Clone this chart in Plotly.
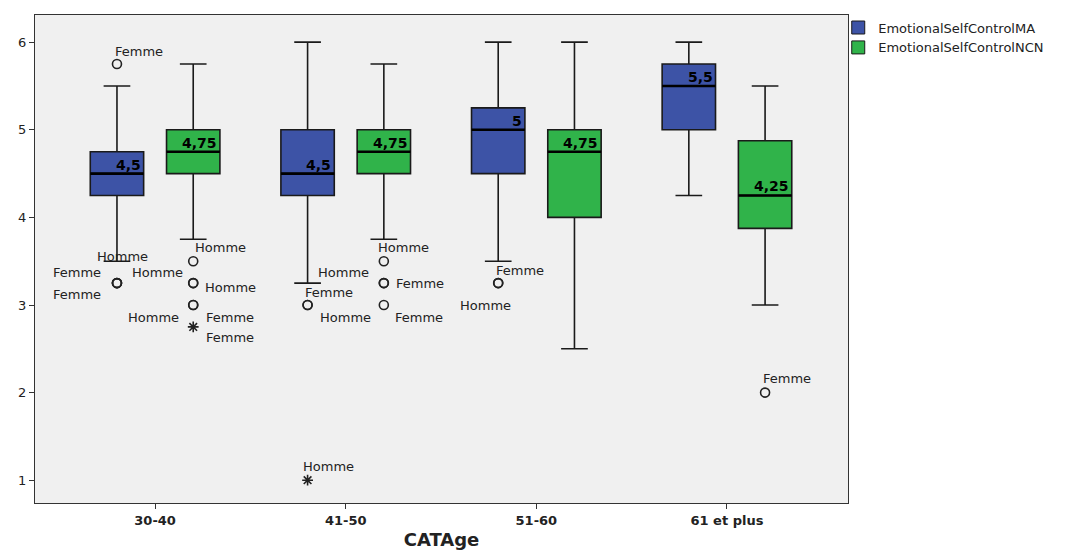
import plotly.graph_objects as go

categories = ["30-40", "41-50", "51-60", "61 et plus"]
series_names = ["EmotionalSelfControlMA", "EmotionalSelfControlNCN"]

# box statistics per category
ma_low = [3.5, 3.25, 3.5, 4.25]
ma_q1 = [4.25, 4.25, 4.5, 5.0]
ma_med = [4.5, 4.5, 5.0, 5.5]
ma_q3 = [4.75, 5.0, 5.25, 5.75]
ma_high = [5.5, 6.0, 6.0, 6.0]

ncn_low = [3.75, 3.75, 2.5, 3.0]
ncn_q1 = [4.5, 4.5, 4.0, 3.875]
ncn_med = [4.75, 4.75, 4.75, 4.25]
ncn_q3 = [5.0, 5.0, 5.0, 4.875]
ncn_high = [5.75, 5.75, 6.0, 5.5]

median_labels_ma = ["4,5", "4,5", "5", "5,5"]
median_labels_ncn = ["4,75", "4,75", "4,75", "4,25"]

# outliers: category index, series (0=MA, 1=NCN), value, kind, case label
out_cat = [0, 0, 0, 0, 0, 0, 0, 0, 0, 0,
           1, 1, 1, 1, 1, 1, 1, 2, 2, 3]
out_ser = [0, 0, 0, 0, 1, 1, 1, 1, 1, 1,
           0, 0, 0, 1, 1, 1, 1, 0, 0, 1]
out_val = [5.75, 3.25, 3.25, 3.25, 3.5, 3.25, 3.25, 3.0, 3.0, 2.75,
           3.0, 3.0, 1.0, 3.5, 3.25, 3.25, 3.0, 3.25, 3.25, 2.0]
out_kind = ["o", "o", "o", "o", "o", "o", "o", "o", "o", "*",
            "o", "o", "*", "o", "o", "o", "o", "o", "o", "o"]
out_lab = ["Femme", "Homme", "Femme", "Femme", "Homme", "Homme", "Homme", "Homme", "Femme", "Femme",
           "Femme", "Homme", "Homme", "Homme", "Homme", "Femme", "Femme", "Femme", "Homme", "Femme"]
# label offsets in pixels (style)
lab_dx = [22, 6, -40, -40, 27, -36, 37, -40, 37, 37,
          21, 38, 21, 20, -40, 36, 35, 22, -13, 22]
lab_dy = [13, 27, 11, -11, 14, 11, -4, -12, -12, -11,
          13, -12, 14, 14, 11, 0, -12, 13, -22, 14]

BLUE = "#3D53A6"
GREEN = "#30B34A"
EDGE = "#1A1A1A"
OFF = 0.2
BW = 0.28
FONT = "DejaVu Sans"

fig = go.Figure()
xs = list(range(len(categories)))
stats = [
    (ma_low, ma_q1, ma_med, ma_q3, ma_high, BLUE, -OFF, median_labels_ma),
    (ncn_low, ncn_q1, ncn_med, ncn_q3, ncn_high, GREEN, OFF, median_labels_ncn),
]
for si, (lo, q1, med, q3, hi, col, off, mlab) in enumerate(stats):
    pos = [x + off for x in xs]
    fig.add_trace(go.Box(
        x=pos, q1=q1, median=med, q3=q3, lowerfence=lo, upperfence=hi,
        width=BW, fillcolor=col, line=dict(color=EDGE, width=1.6),
        whiskerwidth=0.5, showlegend=False, hoverinfo="skip", boxpoints=False,
    ))
    for p, m, t in zip(pos, med, mlab):
        fig.add_shape(type="line", x0=p - BW / 2, x1=p + BW / 2, y0=m, y1=m,
                      line=dict(color="black", width=2.6), xref="x", yref="y")
        fig.add_annotation(x=p + BW / 2, y=m, text="<b>" + t + "</b>", showarrow=False,
                           xanchor="right", yanchor="bottom", xshift=-1, yshift=-1,
                           font=dict(family=FONT, size=14, color="black"))

for kind, sym, sz in [("o", "circle-open", 9), ("*", "asterisk-open", 9)]:
    px, py = [], []
    for c, s, v, k in zip(out_cat, out_ser, out_val, out_kind):
        if k == kind:
            px.append(c + (OFF if s == 1 else -OFF))
            py.append(v)
    fig.add_trace(go.Scatter(x=px, y=py, mode="markers", showlegend=False, hoverinfo="skip",
                             marker=dict(symbol=sym, size=sz, color="#222222",
                                         line=dict(color="#222222", width=1.6))))

for c, s, v, l, dx, dy in zip(out_cat, out_ser, out_val, out_lab, lab_dx, lab_dy):
    fig.add_annotation(x=c + (OFF if s == 1 else -OFF), y=v, text=l, showarrow=False,
                       xshift=dx, yshift=dy,
                       font=dict(family=FONT, size=13, color="#222222"))

for name, col in zip(series_names, [BLUE, GREEN]):
    fig.add_trace(go.Scatter(x=[None], y=[None], mode="markers", name=name,
                             marker=dict(symbol="square", size=13, color=col,
                                         line=dict(color=EDGE, width=1))))

fig.update_layout(
    width=1091, height=554,
    margin=dict(l=27, r=251, t=7, b=59, autoexpand=False),
    paper_bgcolor="white", plot_bgcolor="#F0F0F0",
    font=dict(family=FONT, color="#222222"),
    legend=dict(x=0.988, y=1.005, xanchor="left", yanchor="top", bgcolor="rgba(0,0,0,0)",
                font=dict(size=13, color="#222222"), itemwidth=30,
                tracegroupgap=0),
    showlegend=True,
)
fig.update_xaxes(range=[-0.63, 3.635], tickvals=xs, ticktext=["<b>" + c + "</b>" for c in categories],
                 ticks="outside", ticklen=5, tickcolor="#333", showline=True, linecolor="#333",
                 linewidth=1.3, mirror=True, showgrid=False, zeroline=False, automargin=False,
                 tickfont=dict(family=FONT, size=13, color="#222"),
                 title=dict(text="<b>CATAge</b>", font=dict(family=FONT, size=18, color="#222"), standoff=6))
fig.update_yaxes(range=[0.74, 6.31], tickvals=[1, 2, 3, 4, 5, 6], ticks="outside", ticklen=5,
                 tickcolor="#333", showline=True, linecolor="#333", linewidth=1.3, mirror=True,
                 showgrid=False, zeroline=False, automargin=False,
                 tickfont=dict(family=FONT, size=13, color="#222"))

fig.write_html("out.html")
